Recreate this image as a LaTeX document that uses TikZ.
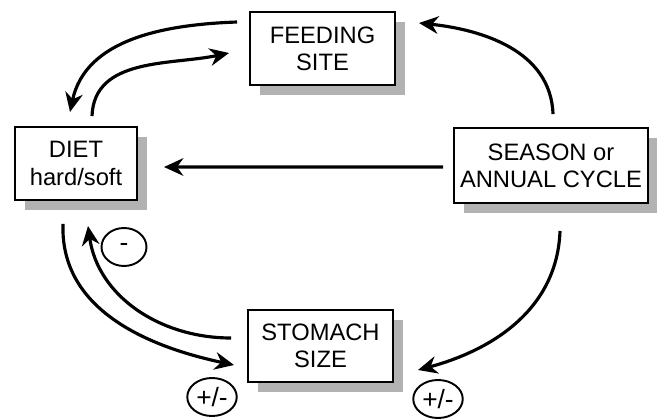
\documentclass[tikz,border=0pt]{standalone}
\usepackage{fontspec}
\setmainfont{Liberation Sans}
\usepackage{xcolor}
\usepackage{tikz}
\usetikzlibrary{arrows.meta,shadows,shapes.geometric}

\tikzset{
  factor/.style={draw, line width=1.1pt, fill=white, align=center,
    font=\fontsize{13.5}{15.5}\selectfont,
    drop shadow={shadow xshift=0.19cm, shadow yshift=-0.2cm, fill=gray!60, opacity=1}},
  link/.style={line width=1.8pt, -{Stealth[length=11pt,width=10pt]}},
  sign/.style={draw, ellipse, line width=1.1pt, inner xsep=1pt, inner ysep=0pt,
    minimum height=0.76cm, minimum width=0.9cm, font=\fontsize{15}{15}\selectfont}
}

\begin{document}
\begin{tikzpicture}
        \useasboundingbox (0, 0) rectangle (13.24, 8.36);
        \node[factor, minimum width=2.9cm, minimum height=1.46cm] (feed) at (6.45, 7.39) {FEEDING\\SITE};
        \node[factor, minimum width=2.44cm, minimum height=1.46cm] (diet) at (1.52, 5.09) {DIET\\hard/soft};
        \node[factor, minimum width=3.84cm, minimum height=1.5cm] (season) at (11.02, 5.05) {SEASON or\\ANNUAL CYCLE};
        \node[factor, minimum width=2.9cm, minimum height=1.44cm] (stomach) at (6.41, 1.44) {STOMACH\\SIZE};
        \node[sign] (neg) at (2.48, 3.42) {-};
        \node[sign] (pmleft) at (4.24, 0.42) {+/-};
        \node[sign] (pmright) at (8.76, 0.38) {+/-};
        \draw[link] ([xshift=0.04cm, yshift=0.26cm]season.north) to[out=92, in=-6] ([xshift=0.46cm, yshift=0.51cm]feed.east);
        \draw[link] ([xshift=-0.2cm, yshift=-0.03cm]season.west) -- ([xshift=0.52cm, yshift=-0.07cm]diet.east);
        \draw[link] ([xshift=0.18cm, yshift=-0.54cm]season.south) to[out=-92, in=15] ([xshift=0.48cm, yshift=-0.48cm]stomach.east);
        \draw[link] ([xshift=-0.24cm, yshift=0.53cm]feed.west) to[out=182, in=78] ([xshift=-0.12cm, yshift=0.28cm]diet.north);
        \draw[link] ([xshift=0.32cm, yshift=0.2cm]diet.north) to[out=88, in=192] ([xshift=-0.4cm, yshift=-0.09cm]feed.west);
        \draw[link] ([xshift=-0.26cm, yshift=-0.46cm]diet.south) to[out=-92, in=168] ([xshift=-0.26cm, yshift=-0.38cm]stomach.west);
        \draw[link] ([xshift=-0.32cm, yshift=0.16cm]stomach.west) to[out=180, in=-82] ([xshift=0.24cm, yshift=-0.5cm]diet.south);
    \end{tikzpicture}
\end{document}
